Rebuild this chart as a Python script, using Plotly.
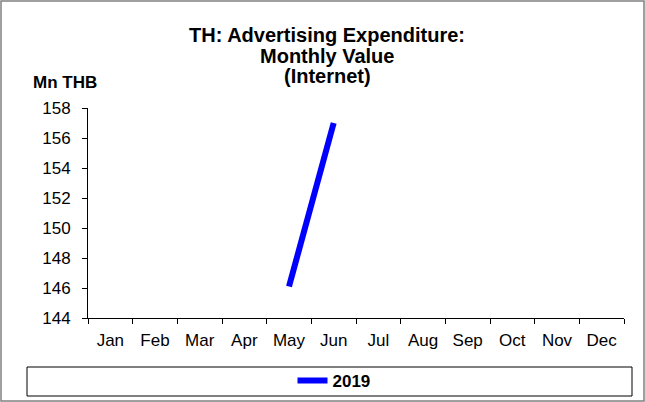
import plotly.graph_objects as go

months = ["Jan", "Feb", "Mar", "Apr", "May", "Jun", "Jul", "Aug", "Sep", "Oct", "Nov", "Dec"]
values_2019 = [None, None, None, None, 146.1, 157.0, None, None, None, None, None, None]
y_ticks = [144, 146, 148, 150, 152, 154, 156, 158]
title_lines = ["TH: Advertising Expenditure:", "Monthly Value", "(Internet)"]

_FONT = "Liberation Sans, Arial, sans-serif"
_BLUE = "#0000FF"

# plot-area pixel box: x 88..624, y 108..318
_L, _R, _T, _B = 88, 624, 108, 318


def px_x(x):
    return (x - _L) / (_R - _L)


def px_y(y):
    return (_B - y) / (_B - _T)


fig = go.Figure()
fig.add_trace(go.Scatter(
    x=months, y=values_2019, name="<b>2019</b>", mode="lines",
    line=dict(color=_BLUE, width=6),
    connectgaps=False,
))

fig.update_layout(
    width=645, height=402,
    margin=dict(l=_L, r=645 - _R, t=_T, b=402 - _B, autoexpand=False),
    paper_bgcolor="white", plot_bgcolor="white",
    font=dict(family=_FONT, size=17, color="black"),
    showlegend=True,
    legend=dict(
        orientation="h", x=px_x(334), xanchor="center", y=px_y(381), yanchor="middle",
        font=dict(family=_FONT, size=17, color="black"),
        bgcolor="rgba(0,0,0,0)",
    ),
)

fig.update_xaxes(
    type="category", categoryorder="array", categoryarray=months,
    range=[-0.5, 11.5],
    showline=True, linecolor="black", linewidth=1,
    ticks="outside", tickson="boundaries", ticklen=5, tickcolor="black",
    ticklabelstandoff=7,
    showgrid=False, zeroline=False,
)
fig.update_yaxes(
    range=[144, 158], tickvals=y_ticks,
    showline=True, linecolor="black", linewidth=1,
    ticks="outside", ticklen=5, tickcolor="black",
    ticklabelstandoff=8,
    showgrid=False, zeroline=False,
)

# title, one annotation per line to keep the tight line spacing
for line, yc in zip(title_lines, [35, 55.5, 76]):
    fig.add_annotation(
        text=f"<b>{line}</b>", xref="paper", yref="paper",
        x=px_x(327), y=px_y(yc), xanchor="center", yanchor="middle",
        showarrow=False, font=dict(family=_FONT, size=20, color="black"),
    )

# y-axis unit label
fig.add_annotation(
    text="<b>Mn THB</b>", xref="paper", yref="paper",
    x=px_x(65), y=px_y(82), xanchor="center", yanchor="middle", showarrow=False,
    font=dict(family=_FONT, size=17, color="black"),
)
# legend frame
fig.add_shape(
    type="rect", xref="paper", yref="paper",
    x0=px_x(27), x1=px_x(632), y0=px_y(396), y1=px_y(367),
    line=dict(color="black", width=1),
)
# outer frame
fig.add_shape(
    type="rect", xref="paper", yref="paper",
    x0=px_x(1), x1=px_x(644), y0=px_y(401), y1=px_y(1),
    line=dict(color="#808080", width=1.5),
)

fig.write_html(
    "out.html",
    config={"displayModeBar": False},
    post_script="document.body.style.margin='0';",
)
